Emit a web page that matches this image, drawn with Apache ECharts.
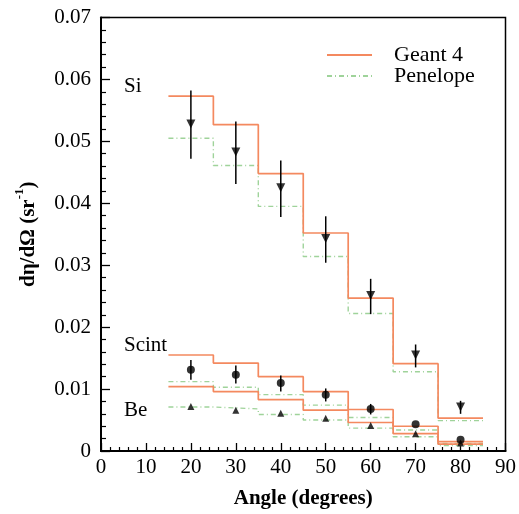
<!DOCTYPE html>
<html>
<head>
<meta charset="utf-8">
<script src="https://cdn.jsdelivr.net/npm/echarts@6/dist/echarts.min.js"></script>
<style>
html,body{margin:0;padding:0;background:#fff;}
#chart{width:519px;height:514px;}
</style>
</head>
<body>
<div id="chart"></div>
<script>
// ---- data ----
var binEdges = [15, 25, 35, 45, 55, 65, 75, 85];
var siGeant = [0.0573, 0.0527, 0.0448, 0.0352, 0.0247, 0.0141, 0.0053];
var siPenelope = [0.0505, 0.0461, 0.0395, 0.0314, 0.0222, 0.0128, 0.0049];
var scintGeant = [0.0155, 0.0142, 0.0120, 0.0096, 0.0067, 0.0040, 0.0015];
var scintPenelope = [0.0112, 0.0103, 0.0091, 0.0074, 0.0054, 0.0034, 0.0012];
var beGeant = [0.0104, 0.0096, 0.0083, 0.0066, 0.0046, 0.0028, 0.0011];
var bePenelope = [0.0071, 0.0068, 0.0059, 0.0050, 0.0037, 0.0023, 0.0009];

var angles = [20, 30, 40, 50, 60, 70, 80];
var siData = [0.0528, 0.0483, 0.0425, 0.0343, 0.0251, 0.0155, 0.0071];
var siErrLo = [0.0472, 0.0431, 0.0378, 0.0304, 0.0221, 0.0135, 0.0060];
var siErrHi = [0.0582, 0.0532, 0.0469, 0.0379, 0.0278, 0.0172, 0.0081];
var scintData = [0.0131, 0.0123, 0.0110, 0.0091, 0.0068, 0.0043, 0.0018];
var scintErrLo = [0.0115, 0.0109, 0.0096, 0.0080, 0.0059, 0.0043, 0.0018];
var scintErrHi = [0.0147, 0.0138, 0.0122, 0.0101, 0.0076, 0.0043, 0.0018];
var beData = [0.0072, 0.0066, 0.0061, 0.0053, 0.0041, 0.0028, 0.0013];

var xTicks = [0, 10, 20, 30, 40, 50, 60, 70, 80, 90];
var yTicks = [0, 0.01, 0.02, 0.03, 0.04, 0.05, 0.06, 0.07];
var materialLabels = ['Si', 'Scint', 'Be'];

// ---- helpers ----
var FONT = 'Liberation Serif';
var ORANGE = '#f4895f';
var GREEN = '#9fd39a';

function histData(vals) {
  var d = [];
  for (var i = 0; i < vals.length; i++) d.push([binEdges[i], vals[i]]);
  d.push([binEdges[vals.length], vals[vals.length - 1]]);
  return d;
}
function geantSeries(vals) {
  return { name: 'Geant 4', type: 'line', step: 'end', data: histData(vals), symbol: 'none',
    lineStyle: { color: ORANGE, width: 1.7 }, itemStyle: { color: ORANGE }, z: 3, animation: false };
}
function penSeries(vals) {
  return { name: 'Penelope', type: 'line', step: 'end', data: histData(vals), symbol: 'none',
    lineStyle: { color: GREEN, width: 1.4, type: [5, 3, 1, 3] }, itemStyle: { color: GREEN }, z: 2, animation: false };
}
function pts(vals) { return angles.map(function (a, i) { return [a, vals[i]]; }); }
function errSeries(lo, hi) {
  return { type: 'custom', z: 4, animation: false,
    data: angles.map(function (a, i) { return [a, lo[i], hi[i]]; }),
    renderItem: function (params, api) {
      var p1 = api.coord([api.value(0), api.value(1)]);
      var p2 = api.coord([api.value(0), api.value(2)]);
      return { type: 'line', shape: { x1: p1[0], y1: p1[1], x2: p2[0], y2: p2[1] },
        style: { stroke: '#000', lineWidth: 1.5 } };
    } };
}
function markerSeries(vals, symbol, rot, size) {
  return { type: 'scatter', data: pts(vals), symbol: symbol, symbolRotate: rot, symbolSize: size,
    itemStyle: { color: '#000' }, z: 5, animation: false };
}

var chart = echarts.init(document.getElementById('chart'));
var option = {
  backgroundColor: '#fff',
  animation: false,
  textStyle: { fontFamily: FONT },
  grid: { left: 101, right: 12, top: 17.5, bottom: 62, show: true, borderColor: '#000', borderWidth: 1.5 },
  legend: {
    data: ['Geant 4', 'Penelope'], orient: 'vertical', left: 326, top: 44, padding: 0,
    itemWidth: 45, itemHeight: 10, itemGap: -1,
    itemStyle: { opacity: 0 },
    textStyle: { fontFamily: FONT, fontSize: 22, color: '#000', lineHeight: 19, padding: [0, 0, 0, 17] }
  },
  xAxis: {
    type: 'value', min: 0, max: 90, interval: 10,
    name: 'Angle (degrees)', nameLocation: 'middle', nameGap: 37,
    nameTextStyle: { fontFamily: FONT, fontSize: 21, fontWeight: 'bold', color: '#000' },
    axisLine: { lineStyle: { color: '#000', width: 2 } },
    axisTick: { inside: true, length: 8, lineStyle: { color: '#000', width: 1.3 } },
    minorTick: { show: true, splitNumber: 5, length: 4, lineStyle: { color: '#000', width: 1.2 } },
    splitLine: { show: false },
    axisLabel: { fontFamily: FONT, fontSize: 21, color: '#000', margin: 6,
      formatter: function (v) { return xTicks.indexOf(v) >= 0 ? String(v) : ''; } }
  },
  yAxis: {
    type: 'value', min: 0, max: 0.07, interval: 0.01,
    name: '{t|dη/dΩ (sr}{s|-1}{t|)}', nameLocation: 'middle', nameGap: 62, nameRotate: 90,
    nameTextStyle: { fontFamily: FONT, fontWeight: 'bold', color: '#000',
      rich: { t: { fontFamily: FONT, fontSize: 21, fontWeight: 'bold', lineHeight: 26, verticalAlign: 'bottom' },
              s: { fontFamily: FONT, fontSize: 13, fontWeight: 'bold', lineHeight: 26, verticalAlign: 'top' } } },
    axisLine: { lineStyle: { color: '#000', width: 2 } },
    axisTick: { inside: true, length: 9, lineStyle: { color: '#000', width: 1.3 } },
    minorTick: { show: true, splitNumber: 5, length: 5, lineStyle: { color: '#000', width: 1.2 } },
    splitLine: { show: false },
    axisLabel: { fontFamily: FONT, fontSize: 21, color: '#000', margin: 10,
      formatter: function (v) {
        for (var i = 0; i < yTicks.length; i++) if (Math.abs(yTicks[i] - v) < 1e-9) return String(yTicks[i]);
        return '';
      } }
  },
  graphic: [
    { type: 'text', left: 124, top: 76, style: { text: materialLabels[0], font: '21px ' + FONT, fill: '#000' } },
    { type: 'text', left: 124, top: 335, style: { text: materialLabels[1], font: '21px ' + FONT, fill: '#000' } },
    { type: 'text', left: 124, top: 400, style: { text: materialLabels[2], font: '21px ' + FONT, fill: '#000' } }
  ],
  series: [
    geantSeries(siGeant), penSeries(siPenelope),
    geantSeries(scintGeant), penSeries(scintPenelope),
    geantSeries(beGeant), penSeries(bePenelope),
    errSeries(siErrLo, siErrHi), errSeries(scintErrLo, scintErrHi),
    markerSeries(siData, 'triangle', 180, 9),
    markerSeries(scintData, 'circle', 0, 8),
    markerSeries(beData, 'triangle', 0, 7)
  ]
};
chart.setOption(option);
</script>
</body>
</html>
